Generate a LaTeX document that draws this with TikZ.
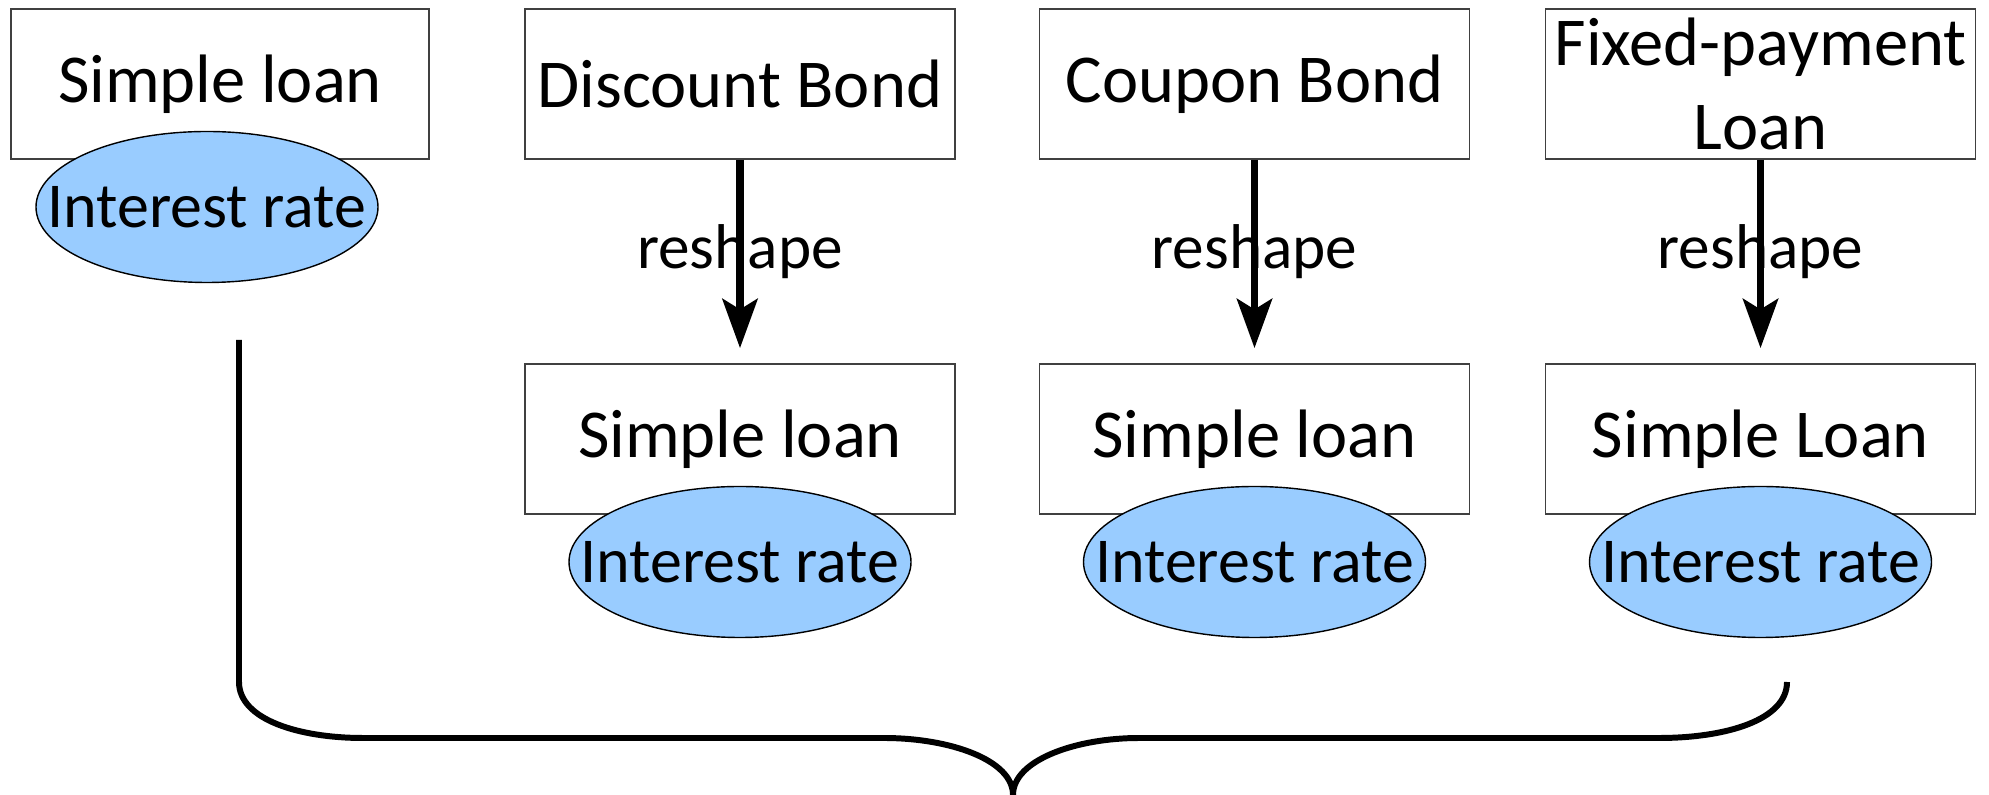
\documentclass[tikz,border=0pt]{standalone}
\usepackage{fontspec}
\setmainfont{Carlito}
\usepackage{xcolor}
\usetikzlibrary{arrows.meta, shapes.geometric}
\definecolor{ratefill}{RGB}{153,204,255}

\begin{document}
\begin{tikzpicture}[
            every text node part/.style={
                align=center
            },
            loan box/.style = {
                draw=black!75, line width=0.5pt, fill=white,
                minimum width=4.3cm, minimum height=1.5cm,
                inner sep=0pt,
                font=\fontsize{19.5}{24}\selectfont
            },
            rate/.style = {
                ellipse, draw, line width=0.4pt, fill=ratefill,
                minimum width=3.42cm, minimum height=1.51cm,
                inner sep=0pt,
                font=\fontsize{18.2}{21}\selectfont
            },
            reshape arrow/.style = {
                -{Stealth[length=14pt, width=10pt, inset=3pt]},
                line width=2pt, shorten >=0.15cm
            },
            brace/.style = {
                line width=1.7pt
            }
            ]

            \useasboundingbox (0,0) rectangle (19.89,-7.95);

            \pgfmathsetmacro{\ytop}{-0.84}
            \pgfmathsetmacro{\ylow}{-4.39}
            \pgfmathsetmacro{\yrate}{-5.62}

            % simple loan on its own
            \node[loan box, minimum width=4.18cm] (simple) at (2.20, \ytop) {Simple loan};
            \node[rate] (rate0) at (2.07, -2.07) {\makebox[0pt]{Interest rate}};

            % the other three, each reshaped into a simple loan
            \foreach \name/\x/\upname/\lowname in {disc/7.40/Discount Bond/Simple loan, coup/12.545/Coupon Bond/Simple loan, fixed/17.605/{Fixed-payment\\Loan}/Simple Loan} {
                \node[loan box] (\name) at (\x, \ytop) {\upname};
                \node[loan box] (\name-low) at (\x, \ylow) {\lowname};
                \node[rate] (\name-rate) at (\x, \yrate) {\makebox[0pt]{Interest rate}};
                \draw[reshape arrow] (\name.south) -- (\name-low.north)
                    node[midway, yshift=0.1cm, font=\fontsize{18}{21}\selectfont] (\name-lbl) {reshape};
            }

            % brace collecting everything
            \coordinate (brace left) at (2.39, -3.40);
            \coordinate (brace tip) at (10.13, -7.95);
            \coordinate (brace right) at (17.87, -6.82);

            \draw[brace] (brace left) -- (2.39, -6.82)
                .. controls (2.39, -7.20) and (3.00, -7.38) .. (3.63, -7.38) -- (8.84, -7.38)
                .. controls (9.50, -7.38) and (10.13, -7.60) .. (brace tip)
                .. controls (10.13, -7.60) and (10.76, -7.38) .. (11.39, -7.38) -- (16.59, -7.38)
                .. controls (17.26, -7.38) and (17.87, -7.20) .. (brace right);

        \end{tikzpicture}
\end{document}
